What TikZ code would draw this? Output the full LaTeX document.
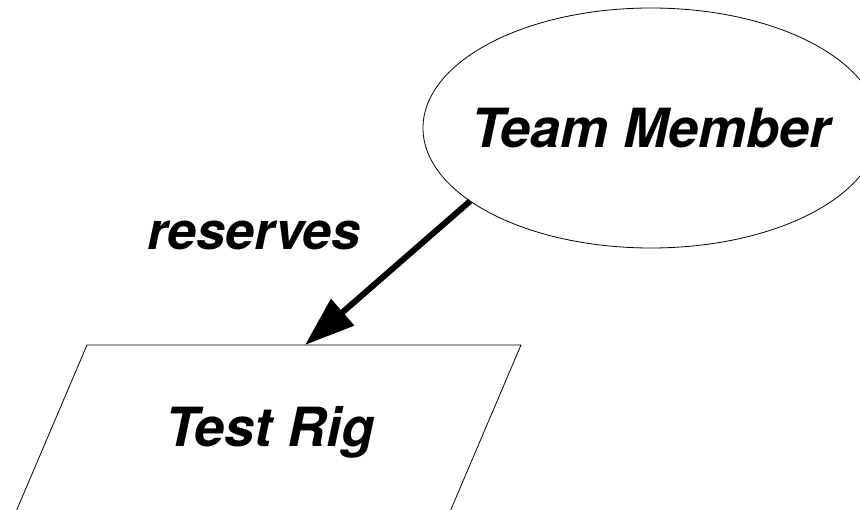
\documentclass[tikz,border=0pt]{standalone}
\usepackage{fontspec}
\setmainfont{TeX Gyre Heros}
\usetikzlibrary{shapes.geometric,arrows.meta}
\begin{document}
\begin{tikzpicture}[x=1pt, y=-1pt,
    lbl/.style = {font=\fontsize{52}{60}\selectfont\bfseries\itshape},
    actor/.style = {draw, ellipse, line width=0.8pt, inner sep=-60pt, outer sep=0pt, minimum width=456pt, minimum height=240pt, lbl},
    rel/.style = {line width=6pt, -{Triangle[length=50pt,width=34pt]}}]
    \useasboundingbox (0,0) rectangle (860,510);
    \node[actor, font=\fontsize{54}{60}\selectfont\bfseries\itshape] (tm) at (651,128) {Team Member};
    % test rig box, cut off at the bottom
    \draw[line width=0.8pt] (87,345) -- (521,345) -- (449,514) -- (15,514) -- cycle;
    \node[lbl, font=\fontsize{54}{60}\selectfont\bfseries\itshape, anchor=base] (tr) at (270,447) {Test Rig};
    \coordinate (trtop) at (305,345);
    \node[lbl, anchor=base] (res) at (254,250) {reserves};
    \draw[rel] (tm.202) -- (trtop);
\end{tikzpicture}
\end{document}
